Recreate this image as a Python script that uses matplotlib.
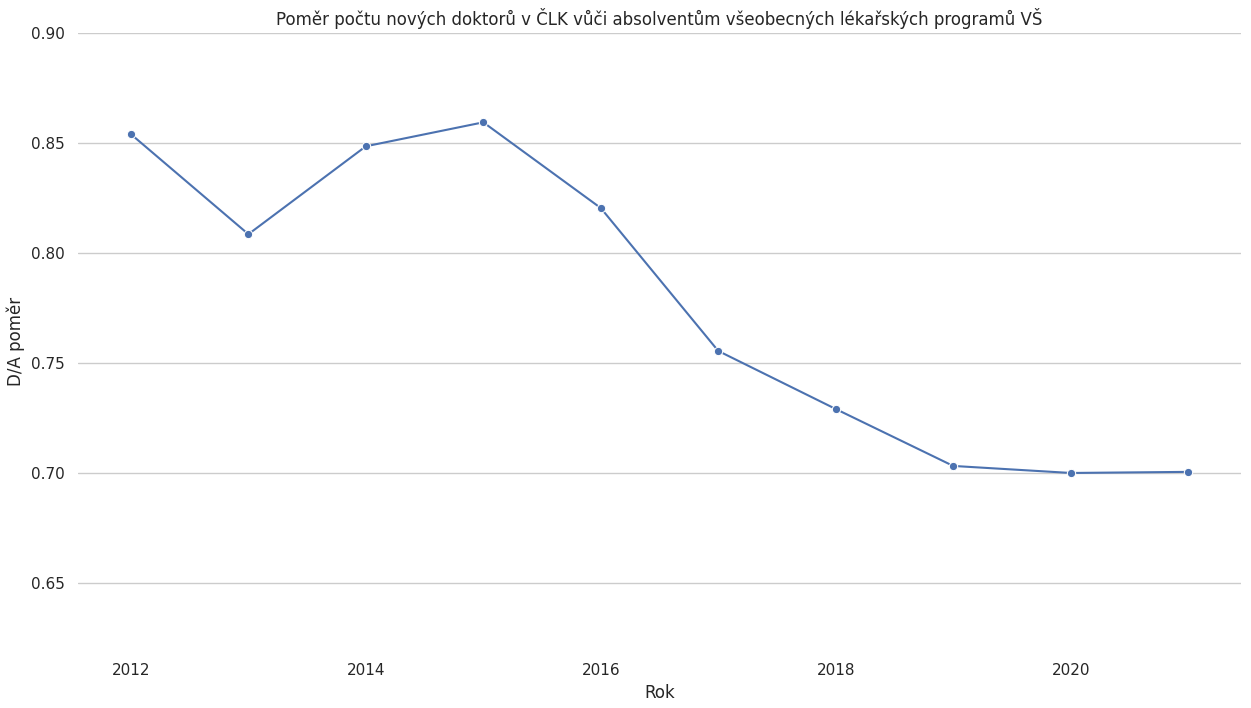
import matplotlib
matplotlib.use("Agg")
import matplotlib.pyplot as plt
import seaborn as sns

sns.set_theme(style="whitegrid")
plt.rcParams["font.family"] = ["DejaVu Sans"]

years = [2012, 2013, 2014, 2015, 2016, 2017, 2018, 2019, 2020, 2021]
ratio = [0.8541, 0.8086, 0.8486, 0.8595, 0.8205, 0.7555, 0.7291, 0.7032, 0.7000, 0.7005]

fig = plt.figure(figsize=(12.51, 7.08), dpi=100)
ax = fig.add_axes([0.0624, 0.082, 0.9296, 0.871])
sns.lineplot(x=years, y=ratio, marker="o", ax=ax, color="#4c72b0", markersize=6)
ax.set_ylim(0.6195, 0.90)
ax.set_yticks([0.65, 0.70, 0.75, 0.80, 0.85, 0.90])
ax.set_xticks([2012, 2014, 2016, 2018, 2020])
ax.xaxis.grid(False)
sns.despine(ax=ax, left=True, bottom=True)
ax.set_title("Poměr počtu nových doktorů v ČLK vůči absolventům všeobecných lékařských programů VŠ", fontsize=12)
ax.set_xlabel("Rok")
ax.set_ylabel("D/A poměr")
fig.savefig("out.png", dpi=100)
